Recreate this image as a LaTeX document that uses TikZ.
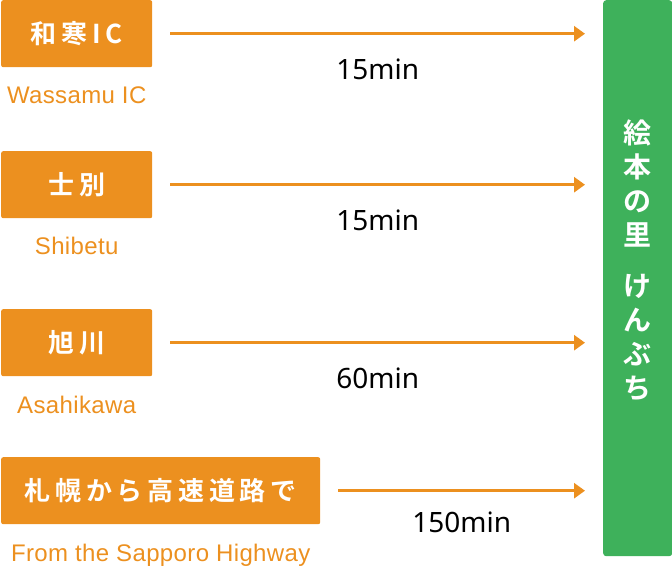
\documentclass[tikz,border=0pt]{standalone}
\usepackage{fontspec}
\usetikzlibrary{positioning,arrows.meta}
\setmainfont{Liberation Sans}
\newfontfamily\jpfont[LetterSpace=18,BoldFont={Noto Sans CJK JP Bold}]{Noto Sans CJK JP}
\newfontfamily\vfont[BoldFont={Noto Sans CJK JP Bold}]{Noto Sans CJK JP}
\newfontfamily\minfont{Noto Sans}
\newfontfamily\enfont[LetterSpace=1.5]{Liberation Sans}
\definecolor{routeorange}{RGB}{236,144,31}
\definecolor{kenbuchigreen}{RGB}{62,177,91}

\begin{document}
\begin{tikzpicture}[x=1pt,y=-1pt,
  place/.style={fill=routeorange, rounded corners=2pt, text=white, minimum height=67pt,
    anchor=north west, inner sep=0pt, font=\jpfont\bfseries\fontsize{26}{30}\selectfont},
  roman/.style={below=19pt of #1, inner sep=0pt, text=routeorange,
    font=\enfont\fontsize{24}{28}\selectfont},
  route/.style={line width=3pt, draw=routeorange, -{Triangle[length=11pt,width=15pt]},
    shorten <=18pt, shorten >=18pt},
  time/.style={midway, yshift=-36pt, font=\minfont\fontsize{28}{32}\selectfont}]
  \useasboundingbox (0,0) rectangle (672,566);
  \node[fill=kenbuchigreen, rounded corners=3pt, minimum width=69pt, minimum height=556pt,
    anchor=north west, inner sep=0pt] (kenbuchi) at (603,0) {};
  \node[text=white, align=center, inner sep=0pt, font=\vfont\bfseries\fontsize{28}{34}\selectfont]
    (kenbuchitext) at ([yshift=18pt]kenbuchi.center) {絵\\本\\の\\里\\[17pt]け\\ん\\ぶ\\ち};
  \node[place, minimum width=151pt] (wassamu) at (1,0) {和寒IC};
  \node[place, minimum width=151pt] (shibetsu) at (1,151) {士別};
  \node[place, minimum width=151pt] (asahikawa) at (1,309) {旭川};
  \node[place, minimum width=319pt] (sapporo) at (1,457) {札幌から高速道路で};
  \node[roman=wassamu] (wassamuen) {Wassamu IC};
  \node[roman=shibetsu] (shibetsuen) {Shibetu};
  \node[roman=asahikawa] (asahikawaen) {Asahikawa};
  \node[roman=sapporo] (sapporoen) {From the Sapporo Highway};
  \draw[route] (wassamu.east) -- (wassamu.east -| kenbuchi.west) node[time] {15min};
  \draw[route] (shibetsu.east) -- (shibetsu.east -| kenbuchi.west) node[time] {15min};
  \draw[route] (asahikawa.east) -- (asahikawa.east -| kenbuchi.west) node[time] {60min};
  \draw[route] (sapporo.east) -- (sapporo.east -| kenbuchi.west) node[time, yshift=4pt] {150min};
\end{tikzpicture}
\end{document}
